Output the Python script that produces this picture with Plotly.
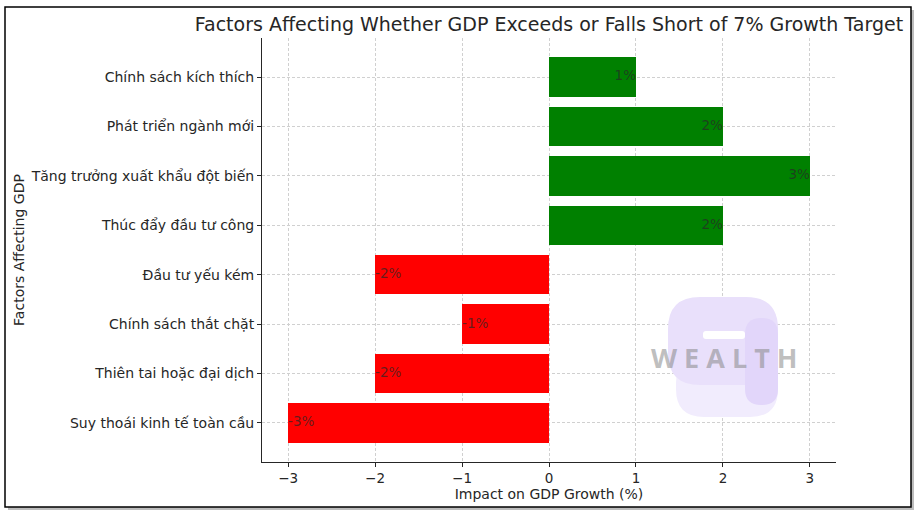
import plotly.graph_objects as go

categories = [
    "Suy thoái kinh tế toàn cầu",
    "Thiên tai hoặc đại dịch",
    "Chính sách thắt chặt",
    "Đầu tư yếu kém",
    "Thúc đẩy đầu tư công",
    "Tăng trưởng xuất khẩu đột biến",
    "Phát triển ngành mới",
    "Chính sách kích thích",
]
impact = [-3, -2, -1, -2, 2, 3, 2, 1]
x_ticks = [-3, -2, -1, 0, 1, 2, 3]

W, H = 917, 512
L, R, T, B = 262, 836, 38, 462


def px(x):
    return (x - L) / (R - L)


def py(y):
    return (B - y) / (B - T)


ypos = list(range(len(categories)))
colors = ["green" if v > 0 else "red" for v in impact]
labels = [f"{v}%" for v in impact]

fig = go.Figure()
fig.add_trace(go.Bar(
    y=ypos,
    x=impact,
    orientation="h",
    width=0.8,
    marker=dict(color=colors, line=dict(width=0)),
    hoverinfo="skip",
))

label_font = dict(family="DejaVu Sans", size=13.5, color="rgba(40,40,40,0.72)")
pos_idx = [i for i, v in enumerate(impact) if v > 0]
neg_idx = [i for i, v in enumerate(impact) if v <= 0]
fig.add_trace(go.Scatter(
    x=[impact[i] for i in pos_idx], y=[ypos[i] for i in pos_idx],
    text=[labels[i] for i in pos_idx], mode="text",
    textposition="middle left", textfont=label_font, hoverinfo="skip",
))
fig.add_trace(go.Scatter(
    x=[impact[i] for i in neg_idx], y=[ypos[i] for i in neg_idx],
    text=[labels[i] for i in neg_idx], mode="text",
    textposition="middle right", textfont=label_font, hoverinfo="skip",
))

shapes = [
    # frame shadow and frame
    dict(type="rect", xref="paper", yref="paper", layer="below",
         x0=px(8), x1=px(914), y0=py(10), y1=py(510),
         line=dict(width=0), fillcolor="#bdbdbd"),
    dict(type="rect", xref="paper", yref="paper", layer="below",
         x0=px(5), x1=px(911), y0=py(7), y1=py(507),
         line=dict(width=1.5, color="black"), fillcolor="white"),
]


def path_px(x0, y0, x1, y1, r):
    X0, X1 = px(x0), px(x1)
    Y0, Y1 = py(y0), py(y1)
    rx = r / (R - L)
    ry = r / (B - T)
    return (f"M {X0+rx},{Y0} L {X1-rx},{Y0} Q {X1},{Y0} {X1},{Y0-ry} "
            f"L {X1},{Y1+ry} Q {X1},{Y1} {X1-rx},{Y1} L {X0+rx},{Y1} "
            f"Q {X0},{Y1} {X0},{Y1+ry} L {X0},{Y0-ry} Q {X0},{Y0} {X0+rx},{Y0} Z")


shapes += [
    dict(type="path", xref="paper", yref="paper", layer="above",
         path=path_px(676, 355, 778, 417, 28),
         line=dict(width=0), fillcolor="#f1ecfd"),
    dict(type="path", xref="paper", yref="paper", layer="above",
         path=path_px(668, 297, 778, 385, 32),
         line=dict(width=0), fillcolor="#e9e0fb"),
    dict(type="path", xref="paper", yref="paper", layer="above",
         path=path_px(745, 318, 778, 405, 16),
         line=dict(width=0), fillcolor="#e2d6fa"),
    dict(type="path", xref="paper", yref="paper", layer="above",
         path=path_px(703, 331, 745, 339, 3),
         line=dict(width=0), fillcolor="#ffffff"),
]

annotations = [
    dict(text="W E A L T H", xref="paper", yref="paper", x=px(724), y=py(357),
         showarrow=False, xanchor="center", yanchor="middle",
         font=dict(family="Open Sans", size=27, weight="bold",
                   color="rgba(135,135,135,0.55)"),
         ),
]

fig.update_layout(
    width=W, height=H,
    autosize=False,
    margin=dict(l=L, r=W - R, t=T, b=H - B, autoexpand=False),
    paper_bgcolor="white",
    plot_bgcolor="rgba(0,0,0,0)",
    showlegend=False,
    bargap=0,
    title=dict(
        text="Factors Affecting Whether GDP Exceeds or Falls Short of 7% Growth Target",
        x=(L + R) / 2 / W, xanchor="center", y=1 - 24 / H, yanchor="middle",
        font=dict(family="DejaVu Sans", size=19, color="#262626"),
    ),
    font=dict(family="DejaVu Sans", color="#262626"),
    shapes=shapes,
    annotations=annotations,
    xaxis=dict(
        automargin=False,
        range=[-3.3, 3.3],
        tickvals=x_ticks,
        ticktext=[("\u2212" + str(-t)) if t < 0 else str(t) for t in x_ticks],
        tickfont=dict(size=13.5, family="DejaVu Sans", color="#262626"),
        ticks="outside", ticklen=4, tickcolor="#262626",
        showline=True, linecolor="#262626", linewidth=1,
        showgrid=True, gridcolor="#d0d0d0", gridwidth=0.8, griddash="3px,2px",
        zeroline=False,
        title=dict(text="Impact on GDP Growth (%)", standoff=2,
                   font=dict(size=14, family="DejaVu Sans", color="#262626")),
    ),
    yaxis=dict(
        automargin=False,
        range=[-0.79, 7.79],
        tickvals=ypos,
        ticktext=categories,
        tickfont=dict(size=14, family="DejaVu Sans", color="#262626"),
        ticks="outside", ticklen=4, tickcolor="#262626",
        showline=True, linecolor="#262626", linewidth=1,
        showgrid=True, gridcolor="#d0d0d0", gridwidth=0.8, griddash="3px,2px",
        zeroline=False,
        title=dict(text="Factors Affecting GDP", standoff=2,
                   font=dict(size=14, family="DejaVu Sans", color="#262626")),
    ),
)

fig.write_html("out.html", config={"displayModeBar": False},
               post_script="document.body.style.margin='0';")
